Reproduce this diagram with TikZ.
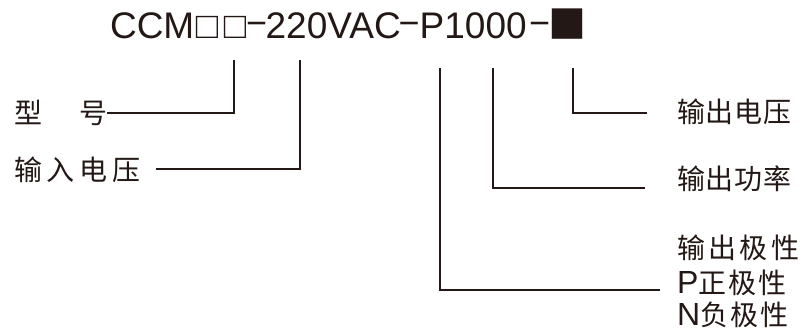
\documentclass[tikz,border=0pt]{standalone}
\usepackage{fontspec}
\setmainfont{Liberation Sans}
\newfontfamily\cjk{Noto Sans CJK SC}
\definecolor{ink}{HTML}{231815}
\newcommand\cpitch[2]{\makebox[#1][l]{#2}}
\newcommand\tseg[2]{\makebox[#1][c]{#2}}
\newcommand\tdash{{\fontsize{36}{36}\selectfont\raisebox{2.5pt}{−}}}
\begin{document}
\begin{tikzpicture}[x=1pt,y=-1pt,
  lbl/.style={inner sep=0pt,text=ink,anchor=base west,font=\cjk\fontsize{28}{30}\selectfont},
  conn/.style={draw=ink,line width=1.3pt}]
\useasboundingbox[fill=white] (0,0) rectangle (804,333);
% title
\node[inner sep=0pt,anchor=base west,text=ink,font=\fontsize{37}{40}\selectfont] (title) at (109,38)
  {\tseg{86pt}{CCM}\tseg{24pt}{□}\tseg{32pt}{□}\tseg{11pt}{\tdash}\tseg{142pt}{220VAC}%
   \tseg{10pt}{\tdash}\tseg{118pt}{P1000}\tseg{15pt}{\tdash}%
   \tseg{40pt}{\cjk\fontsize{38}{38}\selectfont ■}};
% left labels
\node[lbl] (xh) at (14,123) {\cpitch{32.5pt}{型}\cpitch{32.5pt}{}号};
\node[lbl] (srdy) at (14,180) {\cpitch{32.7pt}{输}\cpitch{32.7pt}{入}\cpitch{32.7pt}{电}压};
% right labels
\node[lbl] (scdy) at (677,122) {\cpitch{28.7pt}{输}\cpitch{28.7pt}{出}\cpitch{28.7pt}{电}压};
\node[lbl] (scgl) at (677,189) {\cpitch{28.7pt}{输}\cpitch{28.7pt}{出}\cpitch{28.7pt}{功}率};
\node[lbl] (pol1) at (677,258) {\cpitch{31.3pt}{输}\cpitch{31.3pt}{出}\cpitch{31.3pt}{极}性};
\node[lbl] (pol2) at (677,293) {{\rmfamily\fontsize{32}{32}\selectfont P}\cpitch{30pt}{正}\cpitch{30pt}{极}性};
\node[lbl] (pol3) at (677,325) {{\rmfamily\fontsize{32}{32}\selectfont N}\cpitch{30pt}{负}\cpitch{30pt}{极}性};
% connector tops
\coordinate (t1) at (234,60);
\coordinate (t2) at (300,60);
\coordinate (t3) at (440,68);
\coordinate (t4) at (493,68);
\coordinate (t5) at (573,68);
\draw[conn] (t1) |- ([yshift=10pt]xh.base east);
\draw[conn] (t2) |- ([xshift=15pt,yshift=11pt]srdy.base east);
\draw[conn] (t5) |- ([xshift=-30pt,yshift=9pt]scdy.base west);
\draw[conn] (t4) |- ([xshift=-32pt,yshift=1pt]scgl.base west);
\draw[conn] (t3) |- ([xshift=-17pt,yshift=3pt]pol2.base west);
\end{tikzpicture}
\end{document}
